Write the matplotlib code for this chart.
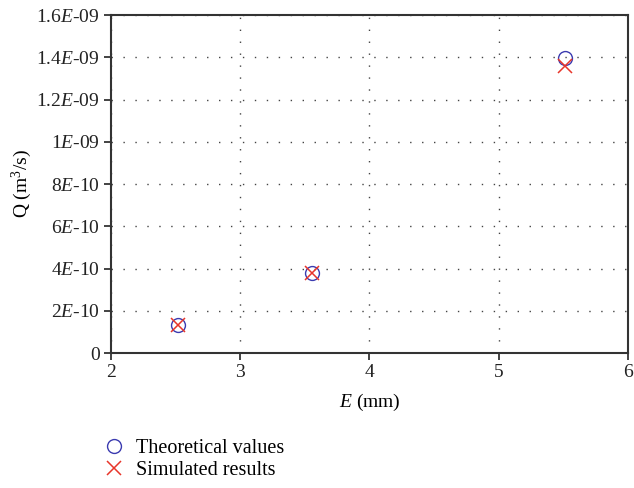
import matplotlib.pyplot as plt
from matplotlib.ticker import FixedLocator, FixedFormatter

plt.rcParams['font.family'] = ['Liberation Serif', 'DejaVu Serif']
plt.rcParams['mathtext.fontset'] = 'custom'
plt.rcParams['mathtext.rm'] = 'Liberation Serif'
plt.rcParams['mathtext.it'] = 'Liberation Serif:italic'

E = [2.52, 3.555, 5.51]
Q_theory = [1.33e-10, 3.79e-10, 1.397e-09]
Q_sim = [1.32e-10, 3.77e-10, 1.36e-09]

y_ticks = [0, 2e-10, 4e-10, 6e-10, 8e-10, 1e-09, 1.2e-09, 1.4e-09, 1.6e-09]
y_labels = ['0', r'2$E$-10', r'4$E$-10', r'6$E$-10', r'8$E$-10',
            r'1$E$-09', r'1.2$E$-09', r'1.4$E$-09', r'1.6$E$-09']
x_ticks = [2, 3, 4, 5, 6]

fig = plt.figure(figsize=(6.34, 4.88), dpi=100)
ax = fig.add_axes([0.175, 0.2766, 0.8155, 0.6924])

ax.plot(E, Q_theory, 'o', ms=10, mfc='none', mec='#3b3bb0', mew=1.0,
        label='Theoretical values', clip_on=False)
ax.plot(E, Q_sim, 'x', ms=10, color='#e8352a', mew=1.1,
        label='Simulated results', clip_on=False)

ax.set_xlim(2, 6)
ax.set_ylim(0, 1.6e-09)
ax.xaxis.set_major_locator(FixedLocator(x_ticks))
ax.yaxis.set_major_locator(FixedLocator(y_ticks))
ax.yaxis.set_major_formatter(FixedFormatter(y_labels))
ax.tick_params(direction='out', length=5, width=1.2, labelsize=14, pad=3,
               colors='#222222', top=False, right=False)
for s in ax.spines.values():
    s.set_linewidth(1.5)
    s.set_color('#333333')
ax.grid(True, linestyle=(0, (1, 7.6)), color='#444444', linewidth=1.0)

ax.set_xlabel(r'$E$ (mm)', fontsize=14, labelpad=8)
ax.set_ylabel(r'Q (m$^3$/s)', fontsize=14, labelpad=2)

fig.legend(loc='upper left', bbox_to_anchor=(0.152, 0.118), frameon=False,
           fontsize=14.5, handlelength=1.0, handletextpad=0.55,
           labelspacing=0.15, borderaxespad=0)

fig.savefig('out.png', dpi=100)
